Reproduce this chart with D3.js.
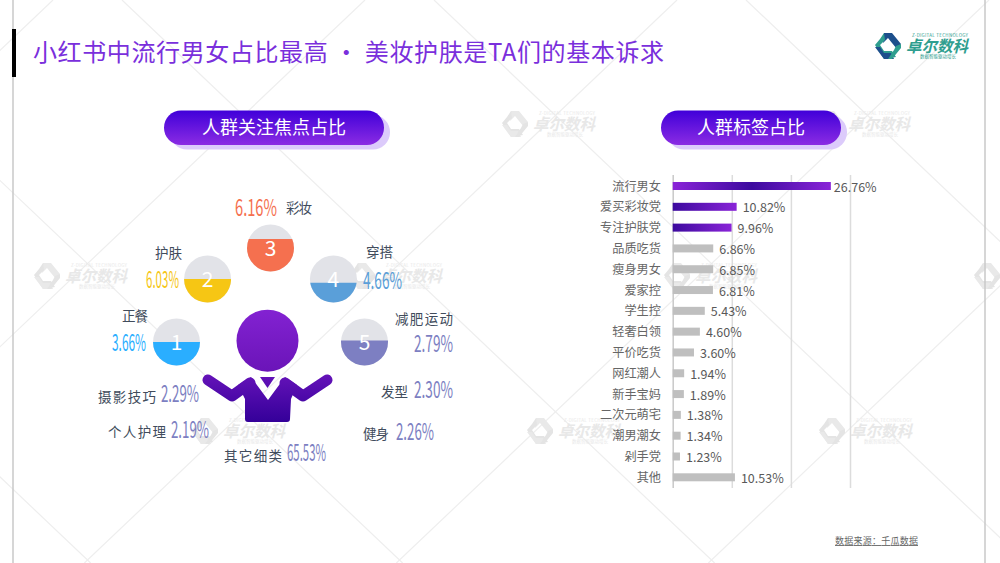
<!DOCTYPE html>
<html><head><meta charset="utf-8">
<script src="https://cdn.jsdelivr.net/npm/d3@7/dist/d3.min.js"></script>
<style>html,body{margin:0;background:#fff}svg{display:block}text{font-family:"Noto Sans CJK SC","Noto Sans",sans-serif}</style>
</head><body><svg id="c" width="1000" height="563"></svg>
<script>
// ---- data ----
const titleText = "小红书中流行男女占比最高 · 美妆护肤是TA们的基本诉求";
const leftHeading = "人群关注焦点占比";
const rightHeading = "人群标签占比";
const sourceText = "数据来源：千瓜数据";
const focusNames = ["正餐","护肤","彩妆","穿搭","减肥运动"];
const focusValues = [3.66,6.03,6.16,4.66,2.79];
const focusFill = [0.50,0.50,0.69,0.42,0.53];
const otherNames = ["摄影技巧","个人护理","其它细类","发型","健身"];
const otherValues = [2.29,2.19,65.53,2.30,2.26];
const tagNames = ["流行男女","爱买彩妆党","专注护肤党","品质吃货","瘦身男女","爱家控","学生控","轻奢白领","平价吃货","网红潮人","新手宝妈","二次元萌宅","潮男潮女","剁手党","其他"];
const tagValues = [26.76,10.82,9.96,6.86,6.85,6.81,5.43,4.60,3.60,1.94,1.89,1.38,1.34,1.23,10.53];
const gridTicks = [0,10,20,30];

// ---- setup ----
const svg = d3.select("#c");
const defs = svg.append("defs");
function grad(id, stops, x2, y2){
  const g = defs.append("linearGradient").attr("id",id).attr("x1",0).attr("y1",0).attr("x2",x2).attr("y2",y2);
  stops.forEach(([o,c])=>g.append("stop").attr("offset",o).attr("stop-color",c));
}
grad("btn",[[0,"#4000d9"],[1,"#8b2ce3"]],0,1);
grad("head",[[0,"#8322d2"],[1,"#6a14b8"]],0,1);
grad("body",[[0,"#6a14bc"],[1,"#340099"]],0,1);
grad("barTop",[[0,"#8a24d8"],[.5,"#3c0a9e"],[1,"#8a24d8"]],1,0);
grad("barNext",[[0,"#3c0a9e"],[1,"#8a24d8"]],1,0);

// ---- watermark ----
const wm = svg.append("g");
const slope = 0.95;
d3.range(-3,6).forEach(k=>{
  wm.append("line").attr("x1",122+312*k).attr("y1",0).attr("x2",122+312*k+563/slope).attr("y2",563).attr("stroke","#eee").attr("stroke-width",1.2);
  wm.append("line").attr("x1",53+312*k).attr("y1",0).attr("x2",53+312*k-563/slope).attr("y2",563).attr("stroke","#eee").attr("stroke-width",1.2);
});
function logo(g,cx,cy,s,a,b){
  const t = g.append("g").attr("transform",`translate(${cx},${cy}) scale(${s})`);
  t.append("path").attr("fill",a).attr("d","M-4,-13 L4,-13 L13,-2 L9,3 L4,-3 L0,-8 L-5,-3 Z");
  t.append("path").attr("fill",b).attr("d","M-13,-1 L-8,-7 L-4,-13 L-3,-6 L-8,-1 L-4,5 L4,5 L8,11 L-4,13 Z");
  t.append("path").attr("fill",a).attr("d","M-13,1 L-8,1 L-4,7 L3,7 L6,13 L-4,13 Z");
  t.append("path").attr("fill",b).attr("d","M13,-2 L13,2 L4,13 L0,13 L6,4 L8,0 Z");
}
function brand(g,x,y,colA,colB,txt,fade){
  logo(g,x,y,1,colA,colB);
  g.append("text").attr("x",x+18).attr("y",y+6).attr("font-size",16).attr("font-style","italic").attr("font-weight",700).attr("fill",txt).attr("textLength",62).attr("lengthAdjust","spacingAndGlyphs").text("卓尔数科");
  g.append("text").attr("x",x+24).attr("y",y-9).attr("font-size",4.5).attr("fill",txt).attr("textLength",56).text("Z-DIGITAL TECHNOLOGY");
  g.append("text").attr("x",x+32).attr("y",y+12).attr("font-size",4.5).attr("fill",txt).attr("textLength",36).text("数据智能驱动增长");
}
[[199,124],[515,124],[830,124],[47,276],[362,276],[677,276],[987,276],[205,431],[540,431],[832,431]].forEach(([x,y])=>{
  brand(wm.append("g"),x,y,"#e9e9e9","#e4e4e4","#e8e8e8");
});

// ---- frame and title ----
svg.append("line").attr("x1",13).attr("x2",13).attr("y1",0).attr("y2",563).attr("stroke","#c8c8c8").attr("stroke-width",1.5);
svg.append("line").attr("x1",985).attr("x2",985).attr("y1",0).attr("y2",563).attr("stroke","#c8c8c8").attr("stroke-width",1.5);
svg.append("rect").attr("x",12).attr("y",29).attr("width",4).attr("height",48).attr("fill","#000");
svg.append("text").attr("x",33).attr("y",61).attr("font-size",24).attr("fill","#7a2fdc").attr("textLength",631).attr("lengthAdjust","spacing").text(titleText);
brand(svg.append("g"),888,46,"#1d4f8c","#2f9e8f","#2f9e8f");

// ---- heading pills ----
function pill(x,w,label,tw){
  const g = svg.append("g");
  g.append("rect").attr("x",x+6).attr("y",115).attr("width",w).attr("height",34.5).attr("rx",17).attr("fill","#dccbfb");
  g.append("rect").attr("x",x).attr("y",110.5).attr("width",w).attr("height",34.5).attr("rx",17).attr("fill","url(#btn)");
  g.append("text").attr("x",x+w/2).attr("y",134).attr("text-anchor","middle").attr("font-size",18).attr("fill","#fff").text(label);
}
pill(164,220,leftHeading);
pill(661,180,rightHeading);

// ---- centre figure, circles on a half ring around it ----
const ringX = 270.5, ringY = 342;
const angle = d3.scalePoint().domain(focusNames).range([Math.PI,2*Math.PI]);
const ring = d3.scaleLinear().domain([0,1]).range([94,89]);
const rad = 23.5;
const pos = n=>{const a=angle(n), r=ring(Math.abs(Math.sin(2*a)));return [ringX+r*Math.cos(a), ringY+r*Math.sin(a)];};
const focusCol = ["#2aaeff","#f6c614","#f5704f","#5a9fd9","#7d7fc2"];
const arcG = svg.append("g");
const fillH = d3.scaleLinear().domain([0,1]).range([rad,-rad]);
focusNames.forEach((n,i)=>{
  const [cx,cy]=pos(n);
  const id="clip"+i;
  defs.append("clipPath").attr("id",id).append("rect").attr("x",cx-rad).attr("y",cy+fillH(focusFill[i])).attr("width",2*rad).attr("height",2*rad);
  arcG.append("circle").attr("cx",cx).attr("cy",cy).attr("r",rad).attr("fill","#e2e3e8");
  arcG.append("circle").attr("cx",cx).attr("cy",cy).attr("r",rad).attr("fill",focusCol[i]).attr("clip-path",`url(#${id})`);
  arcG.append("text").attr("x",cx).attr("y",cy+7.5).attr("text-anchor","middle").attr("font-size",21).attr("fill","#fff").text(i+1);
});
// person icon
const P = svg.append("g");
P.append("circle").attr("cx",267.5).attr("cy",340.7).attr("r",31).attr("fill","url(#head)");
const bodyG = P.append("g");
bodyG.append("path").attr("fill","none").attr("stroke","url(#bodyU)").attr("d","");
grad("bodyU",[[0,"#6412b8"],[1,"#340099"]],0,1);
defs.select("#bodyU").attr("gradientUnits","userSpaceOnUse").attr("x1",0).attr("y1",375).attr("x2",0).attr("y2",422);
bodyG.append("path").attr("fill","none").attr("stroke","url(#bodyU)").attr("stroke-width",11).attr("stroke-linecap","round").attr("stroke-linejoin","round")
  .attr("d","M208,380 L232,396 L250,383 M327,380 L303,396 L285,383");
bodyG.append("path").attr("fill","url(#bodyU)").attr("d","M251,377 L268,400 L285,377 L297,385 L291,399 L290,419 Q290,422 287,422 L248,422 Q245,422 245,419 L245,399 L238,385 Z");
bodyG.append("path").attr("fill","url(#bodyU)").attr("d","M260,377 L275,377 L267.5,388 Z");

// ---- percent / name labels ----
const pct = v=>d3.format(".2f")(v)+"%";
const inkGrey = "#414c5c";
function nameL(t,x,cy,w){
  svg.append("text").attr("x",x).attr("y",cy+4.8).attr("font-size",13.5).attr("fill",inkGrey).attr("textLength",w).attr("lengthAdjust","spacing").text(t);
}
function pctL(v,x,cy,w,col,fs){
  svg.append("text").attr("x",x).attr("y",cy+8.5).attr("font-size",fs||23).attr("fill",col).attr("textLength",w).attr("lengthAdjust","spacingAndGlyphs").text(pct(v));
}
const nameBox = {"正餐":[122,316,26],"护肤":[155,253,27],"彩妆":[286,208,26],"穿搭":[366,252,27],"减肥运动":[395,319,58]};
const pctBox  = {"正餐":[112,342,34],"护肤":[146,279,33],"彩妆":[235,207,42],"穿搭":[363,280,39],"减肥运动":[414,343,39]};
focusNames.forEach((n,i)=>{
  nameL(n,...nameBox[n]);
  pctL(focusValues[i],pctBox[n][0],pctBox[n][1],pctBox[n][2],focusCol[i]);
});
const oNameBox = {"摄影技巧":[98,397,58],"个人护理":[108,432,58],"其它细类":[224,456,58],"发型":[381,392,27],"健身":[363,434,26]};
const oPctBox  = {"摄影技巧":[161,393,38],"个人护理":[171,429,38],"其它细类":[287,452,39],"发型":[414,389,39],"健身":[396,431,38]};
otherNames.forEach((n,i)=>{
  nameL(n,...oNameBox[n]);
  pctL(otherValues[i],oPctBox[n][0],oPctBox[n][1],oPctBox[n][2],"#7d7fc2");
});

// ---- bar chart ----
const xS = d3.scaleLinear().domain([0,30]).range([672.7,850]);
const yS = d3.scalePoint().domain(tagNames).range([186,477.3]);
const barH = 8;
const gridG = svg.append("g").attr("transform","translate(0,488)")
  .call(d3.axisBottom(xS).tickValues(gridTicks).tickSize(-313).tickFormat(""));
gridG.select(".domain").remove();
gridG.selectAll(".tick line").attr("stroke",d=>d===0?"#c9c9c9":"#dcdcdc").attr("stroke-width",1.5);
const catG = svg.append("g").attr("transform","translate(661,0)")
  .call(d3.axisLeft(yS).tickSize(0).tickPadding(0));
catG.select(".domain").remove();
catG.selectAll("text").attr("font-size",12.2).attr("fill","#666").attr("font-family",'"Noto Sans CJK SC"').attr("dy","0.33em");
const barFill = i=> i===0?"url(#barTop)": i<3?"url(#barNext)":"#bfbfbf";
svg.append("g").selectAll("rect").data(tagValues).join("rect")
  .attr("x",xS(0)).attr("y",(d,i)=>yS(tagNames[i])-barH/2).attr("width",d=>xS(d)-xS(0)).attr("height",barH)
  .attr("fill",(d,i)=>barFill(i));
svg.append("g").selectAll("text").data(tagValues).join("text")
  .attr("x",(d,i)=>xS(d)+(i===0?3:6)).attr("y",(d,i)=>yS(tagNames[i])+5.5)
  .attr("font-family",'"Open Sans","Noto Sans",sans-serif').attr("font-size",12.5).attr("fill","#595959").text(d=>pct(d));

// ---- source ----
svg.append("text").attr("x",835).attr("y",544).attr("font-size",9).attr("fill","#666").attr("text-decoration","underline").attr("textLength",83).text(sourceText);
</script></body></html>
